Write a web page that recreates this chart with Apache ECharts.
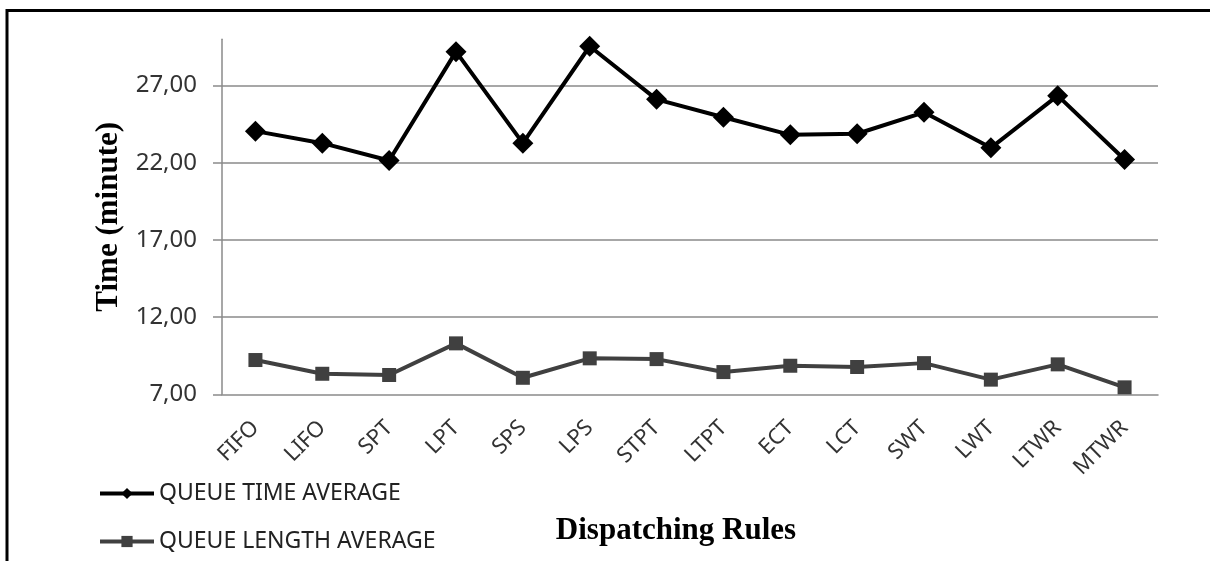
<!DOCTYPE html>
<html>
<head>
<meta charset="utf-8">
<script src="https://cdn.jsdelivr.net/npm/echarts@6/dist/echarts.min.js"></script>
<style>
html,body{margin:0;padding:0;background:#fff;}
#chart{width:1210px;height:561px;}
</style>
</head>
<body>
<div id="chart"></div>
<script>
const categories = ['FIFO','LIFO','SPT','LPT','SPS','LPS','STPT','LTPT','ECT','LCT','SWT','LWT','LTWR','MTWR'];
const queueTimeAverage = [24.05, 23.27, 22.15, 29.2, 23.27, 29.55, 26.11, 24.95, 23.81, 23.88, 25.27, 22.97, 26.35, 22.21];
const queueLengthAverage = [9.22, 8.33, 8.25, 10.3, 8.07, 9.33, 9.28, 8.44, 8.85, 8.77, 9.02, 7.95, 8.94, 7.45];
const seriesNames = ['QUEUE TIME AVERAGE', 'QUEUE LENGTH AVERAGE'];
const yTicks = {min: 7, max: 30, interval: 5};

const chart = echarts.init(document.getElementById('chart'), null, {renderer: 'canvas'});
const labelFont = '"Noto Sans", "Open Sans", sans-serif';
const titleFont = '"Liberation Serif", "Times New Roman", serif';
chart.setOption({
  animation: false,
  backgroundColor: '#fff',
  graphic: [{
    type: 'polyline',
    shape: {points: [[7, 600], [7, 10.5], [1250, 10.5]]},
    style: {fill: 'none', stroke: '#000', lineWidth: 3},
    silent: true
  }],
  grid: {left: 222, right: 52, top: 39.3, bottom: 166.7, containLabel: false},
  legend: {
    orient: 'vertical',
    left: 98,
    top: 480,
    padding: 0,
    itemWidth: 54,
    itemHeight: 14,
    itemGap: 21,
    lineStyle: {width: 4},
    textStyle: {fontFamily: labelFont, fontSize: 23, color: '#222', lineHeight: 27},
    data: seriesNames
  },
  xAxis: {
    type: 'category',
    data: categories,
    boundaryGap: true,
    axisLine: {lineStyle: {color: '#8a8a8a', width: 1.5}},
    axisTick: {show: false},
    axisLabel: {rotate: 45, margin: 30, fontFamily: labelFont, fontSize: 22, color: '#333', interval: 0},
    name: 'Dispatching Rules',
    nameLocation: 'middle',
    nameGap: 121,
    nameTextStyle: {fontFamily: titleFont, fontWeight: 'bold', fontSize: 31, color: '#000', padding: [0, 28, 0, 0]}
  },
  yAxis: {
    type: 'value',
    min: yTicks.min,
    max: yTicks.max,
    interval: yTicks.interval,
    axisLine: {show: true, lineStyle: {color: '#8a8a8a', width: 1.5}},
    axisTick: {show: true, length: 9, lineStyle: {color: '#8a8a8a', width: 1.5}},
    splitLine: {show: true, showMaxLine: false, showMinLine: false, lineStyle: {color: '#8a8a8a', width: 1.5}},
    axisLabel: {
      showMaxLabel: false,
      margin: 25,
      fontFamily: labelFont, fontSize: 24, color: '#333',
      formatter: v => v.toFixed(2).replace('.', ',')
    },
    name: 'Time (minute)',
    nameLocation: 'middle',
    nameGap: 93,
    nameTextStyle: {fontFamily: titleFont, fontWeight: 'bold', fontSize: 31, color: '#000'}
  },
  series: [{
    name: seriesNames[0],
    type: 'line',
    data: queueTimeAverage,
    symbol: 'diamond',
    symbolSize: 21,
    lineStyle: {color: '#000', width: 4},
    itemStyle: {color: '#000'}
  }, {
    name: seriesNames[1],
    type: 'line',
    data: queueLengthAverage,
    symbol: 'rect',
    symbolSize: 14,
    lineStyle: {color: '#404040', width: 4},
    itemStyle: {color: '#404040'}
  }]
});
</script>
</body>
</html>
